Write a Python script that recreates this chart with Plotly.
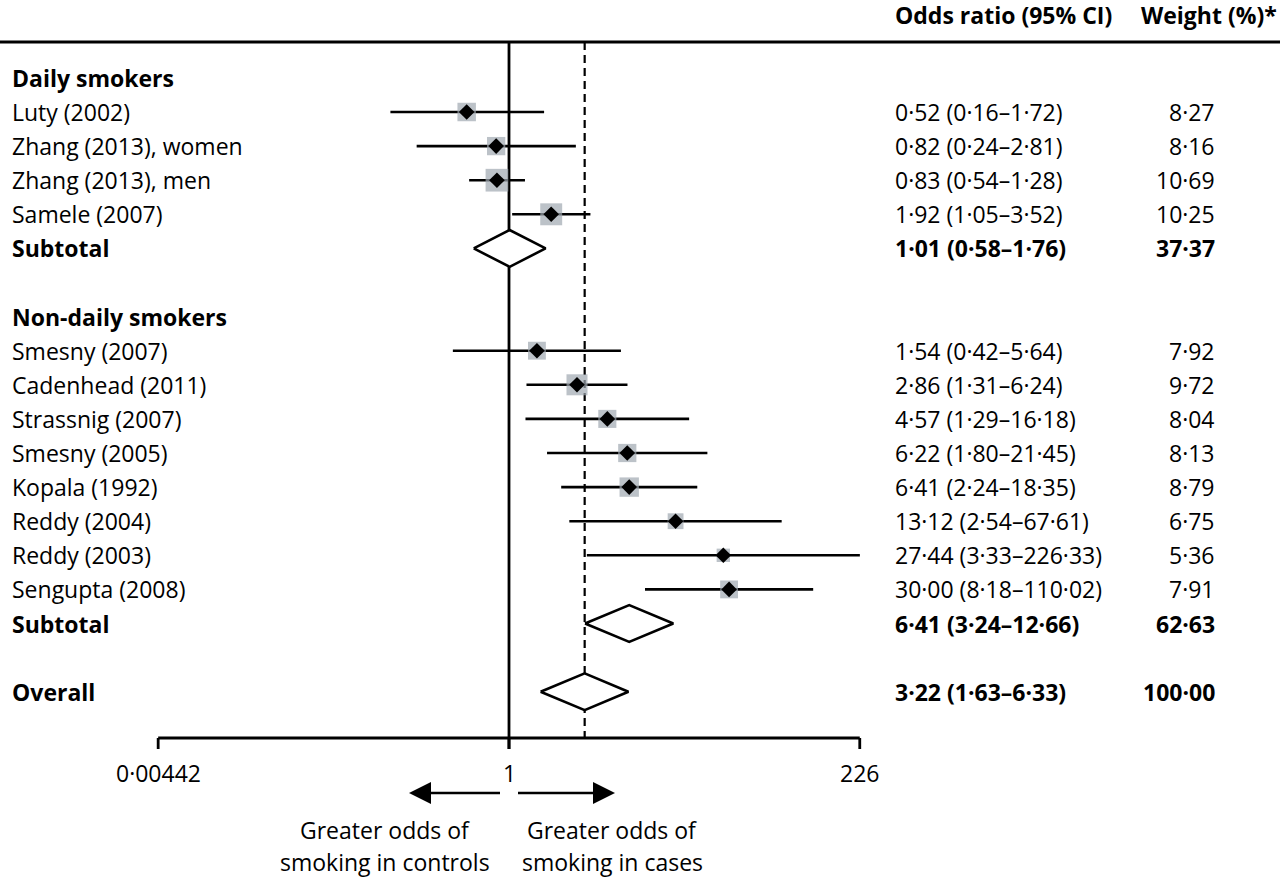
import numpy as np
import plotly.graph_objects as go

# ---------------- data ----------------
daily_labels = ["Luty (2002)", "Zhang (2013), women", "Zhang (2013), men", "Samele (2007)"]
daily_or = [0.52, 0.82, 0.83, 1.92]
daily_lo = [0.16, 0.24, 0.54, 1.05]
daily_hi = [1.72, 2.81, 1.28, 3.52]
daily_w = [8.27, 8.16, 10.69, 10.25]
daily_sub = [1.01, 0.58, 1.76, 37.37]

nd_labels = ["Smesny (2007)", "Cadenhead (2011)", "Strassnig (2007)", "Smesny (2005)",
             "Kopala (1992)", "Reddy (2004)", "Reddy (2003)", "Sengupta (2008)"]
nd_or = [1.54, 2.86, 4.57, 6.22, 6.41, 13.12, 27.44, 30.00]
nd_lo = [0.42, 1.31, 1.29, 1.80, 2.24, 2.54, 3.33, 8.18]
nd_hi = [5.64, 6.24, 16.18, 21.45, 18.35, 67.61, 226.33, 110.02]
nd_w = [7.92, 9.72, 8.04, 8.13, 8.79, 6.75, 5.36, 7.91]
nd_sub = [6.41, 3.24, 12.66, 62.63]

overall = [3.22, 1.63, 6.33, 100.00]

axis_ticks = [0.00442, 1, 226]
axis_ticklabels = ["0·00442", "1", "226"]

# ---------------- layout helpers ----------------
W, H = 1280, 878
PX_PER_DEC = 149.0
X_ONE_PX = 509.0
ROW0_PX = 43.8
ROW_PX = 34.1
FONT = "Open Sans"
FS = 23
GREY = "#9fa8b1"
LW = 2.6

def lg(v):
    return float(np.log10(v))

def row_of_px(py):
    return (py - ROW0_PX) / ROW_PX

def fmt(v):
    return f"{v:.2f}".replace(".", "·")

xr = [-X_ONE_PX / PX_PER_DEC, (W - X_ONE_PX) / PX_PER_DEC]
yr = [row_of_px(H), row_of_px(0)]

fig = go.Figure()
annotations = []
shapes = []

def label(text, row, bold=False, x=10, anchor="left", size=FS):
    t = f"<b>{text}</b>" if bold else text
    annotations.append(dict(text=t, x=x / W, xref="paper", y=row, yref="y",
                            xanchor=anchor, yanchor="middle", showarrow=False,
                            font=dict(family=FONT, size=size, color="black")))

def study_rows(labels, ors, los, his, ws, start_row):
    rows = list(range(start_row, start_row + len(labels)))
    for lab, o, lo, hi, w, r in zip(labels, ors, los, his, ws, rows):
        label(lab, r)
        label(f"{fmt(o)} ({fmt(lo)}–{fmt(hi)})", r, x=893)
        label(fmt(w), r, x=1217, anchor="right")
        fig.add_trace(go.Scatter(x=[lg(lo), lg(hi)], y=[r, r], mode="lines",
                                 line=dict(color="black", width=LW),
                                 hoverinfo="skip", showlegend=False))
    fig.add_trace(go.Scatter(x=[lg(o) for o in ors], y=rows, mode="markers",
                             marker=dict(symbol="square", color=GREY,
                                         size=[1.75 * w + 4 for w in ws],
                                         line=dict(width=0)),
                             hoverinfo="skip", showlegend=False))
    fig.add_trace(go.Scatter(x=[lg(o) for o in ors], y=rows, mode="markers",
                             marker=dict(symbol="diamond", color="black", size=12,
                                         line=dict(width=0)),
                             hoverinfo="skip", showlegend=False))

def pooled(name, vals, row):
    o, lo, hi, w = vals
    label(name, row, bold=True)
    label(f"{fmt(o)} ({fmt(lo)}–{fmt(hi)})", row, bold=True, x=893)
    label(fmt(w), row, bold=True, x=1217, anchor="right")
    h = 0.54
    fig.add_trace(go.Scatter(x=[lg(lo), lg(o), lg(hi), lg(o), lg(lo)],
                             y=[row, row - h, row, row + h, row],
                             mode="lines", fill="toself", fillcolor="white",
                             line=dict(color="black", width=LW),
                             hoverinfo="skip", showlegend=False))

# vertical reference lines (drawn first, below markers)
top_row = row_of_px(42)
axis_row = row_of_px(738)
tick_row = row_of_px(749)
fig.add_trace(go.Scatter(x=[lg(1), lg(1)], y=[top_row, tick_row], mode="lines",
                         line=dict(color="black", width=2.8), hoverinfo="skip", showlegend=False))
fig.add_trace(go.Scatter(x=[lg(overall[0]), lg(overall[0])], y=[top_row, axis_row], mode="lines",
                         line=dict(color="black", width=2.2, dash="8px,5px"),
                         hoverinfo="skip", showlegend=False))

# groups
label("Daily smokers", 1, bold=True)
study_rows(daily_labels, daily_or, daily_lo, daily_hi, daily_w, 2)
pooled("Subtotal", daily_sub, 6)
label("Non-daily smokers", 8, bold=True)
study_rows(nd_labels, nd_or, nd_lo, nd_hi, nd_w, 9)
pooled("Subtotal", nd_sub, 17)
pooled("Overall", overall, 19)

# header
label("Odds ratio (95% CI)", row_of_px(15), bold=True, x=893)
label("Weight (%)*", row_of_px(15), bold=True, x=1279, anchor="right")
shapes.append(dict(type="line", xref="paper", yref="y", x0=0, x1=1,
                   y0=top_row, y1=top_row, line=dict(color="black", width=2.8)))

# bottom axis
shapes.append(dict(type="line", xref="x", yref="y", x0=lg(axis_ticks[0]), x1=lg(axis_ticks[-1]),
                   y0=axis_row, y1=axis_row, line=dict(color="black", width=2.8)))
for tv, tl in zip(axis_ticks, axis_ticklabels):
    shapes.append(dict(type="line", xref="x", yref="y", x0=lg(tv), x1=lg(tv),
                       y0=axis_row, y1=tick_row, line=dict(color="black", width=2.8)))
    annotations.append(dict(text=tl, x=lg(tv), xref="x", y=row_of_px(773), yref="y",
                            xanchor="center", yanchor="middle", showarrow=False,
                            font=dict(family=FONT, size=FS, color="black")))

# direction arrows
arr_row = row_of_px(793)
shapes.append(dict(type="line", xref="paper", yref="y", x0=500 / W, x1=425 / W,
                   y0=arr_row, y1=arr_row, line=dict(color="black", width=2.6)))
shapes.append(dict(type="line", xref="paper", yref="y", x0=518 / W, x1=598 / W,
                   y0=arr_row, y1=arr_row, line=dict(color="black", width=2.6)))
shapes.append(dict(type="path", xref="paper", yref="paper",
                   path=f"M {409/W} {1-793/H} L {431/W} {1-782/H} L {431/W} {1-804/H} Z",
                   fillcolor="black", line=dict(width=0)))
shapes.append(dict(type="path", xref="paper", yref="paper",
                   path=f"M {615/W} {1-793/H} L {593/W} {1-782/H} L {593/W} {1-804/H} Z",
                   fillcolor="black", line=dict(width=0)))
label("Greater odds of", row_of_px(830), x=385, anchor="center")
label("smoking in controls", row_of_px(862), x=385, anchor="center")
label("Greater odds of", row_of_px(830), x=612, anchor="center")
label("smoking in cases", row_of_px(862), x=612, anchor="center")

fig.update_layout(
    width=W, height=H,
    margin=dict(l=0, r=0, t=0, b=0),
    paper_bgcolor="white", plot_bgcolor="white",
    xaxis=dict(range=xr, visible=False, fixedrange=True),
    yaxis=dict(range=yr, visible=False, fixedrange=True),
    annotations=annotations, shapes=shapes,
    showlegend=False,
)
fig.write_html("out.html", config={"displayModeBar": False})

# remove default page margin so the figure sits at the window's top-left corner
with open("out.html", "r", encoding="utf-8") as f:
    html = f.read()
html = html.replace("<head>", "<head><style>html,body{margin:0;padding:0;overflow:hidden;}</style>", 1)
with open("out.html", "w", encoding="utf-8") as f:
    f.write(html)
